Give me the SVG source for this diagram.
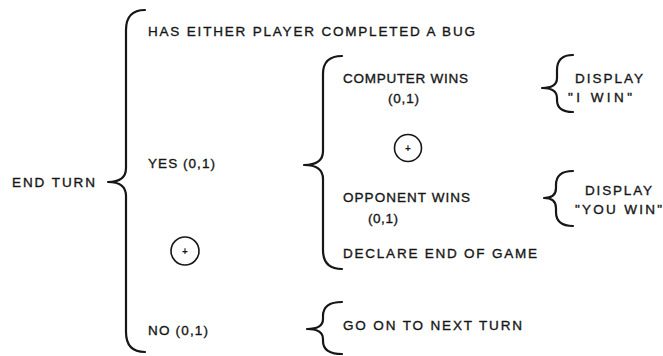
<svg xmlns="http://www.w3.org/2000/svg" width="663" height="356" viewBox="0 0 663 356">
<style>
.t{font-family:"Liberation Sans",Arial,sans-serif;font-size:13.5px;fill:#161616;stroke:#161616;stroke-width:0.35;}
.b{fill:none;stroke:#161616;stroke-width:2.2;stroke-linecap:round;stroke-linejoin:round;}
.c{fill:none;stroke:#161616;stroke-width:1.6;}
.p{font-family:"Liberation Sans",Arial,sans-serif;font-size:10px;fill:#161616;font-weight:bold;}
</style>
<rect width="663" height="356" fill="#ffffff"/>
<g id="connectors">
<path class="b" d="M145,10 Q126,10 126,30 L126,168 Q126,182 108,182 Q126,182 126,196 L126,332 Q126,352 145,352"/>
<path class="b" d="M342,56 Q323,56 323,74 L323,151 Q323,165 304,165 Q323,165 323,179 L323,250 Q323,269 342,269"/>
<path class="b" d="M573,55 Q557,55 557,70 L557,78 Q557,88 542,88 Q557,88 557,98 L557,100 Q557,112 573,112"/>
<path class="b" d="M573,171 Q556,171 556,185 L556,188 Q556,198 544,198 Q556,198 556,208 L556,212 Q556,226 573,226"/>
<path class="b" d="M342,302 Q323,302 323,316 L323,319 Q323,329 307,329 Q323,329 323,339 L323,341 Q323,354 342,354"/>
</g>
<g id="end-turn"><text class="t" x="12" y="187" textLength="83" lengthAdjust="spacing">END TURN</text></g>
<g id="has-either"><text class="t" x="148" y="36" textLength="327" lengthAdjust="spacing">HAS EITHER PLAYER COMPLETED A BUG</text></g>
<g id="yes"><text class="t" x="148" y="168" textLength="67" lengthAdjust="spacing">YES (0,1)</text></g>
<g id="or1"><circle class="c" cx="185" cy="251" r="14"/><text class="p" x="185" y="254.5" text-anchor="middle">+</text></g>
<g id="no"><text class="t" x="148" y="335" textLength="60" lengthAdjust="spacing">NO (0,1)</text></g>
<g id="computer-wins"><text class="t" x="343" y="83" textLength="125" lengthAdjust="spacing">COMPUTER WINS</text><text class="t" x="388" y="103" textLength="31" lengthAdjust="spacing">(0,1)</text></g>
<g id="or2"><circle class="c" cx="408" cy="148" r="13.5"/><text class="p" x="408" y="151.5" text-anchor="middle">+</text></g>
<g id="opponent-wins"><text class="t" x="343" y="202" textLength="127" lengthAdjust="spacing">OPPONENT WINS</text><text class="t" x="368" y="223" textLength="30" lengthAdjust="spacing">(0,1)</text></g>
<g id="declare"><text class="t" x="343" y="258" textLength="194" lengthAdjust="spacing">DECLARE END OF GAME</text></g>
<g id="go-on"><text class="t" x="343" y="330" textLength="179" lengthAdjust="spacing">GO ON TO NEXT TURN</text></g>
<g id="display-i-win"><text class="t" x="575" y="83" textLength="68" lengthAdjust="spacing">DISPLAY</text><text class="t" x="568" y="102" textLength="64" lengthAdjust="spacing">"I WIN"</text></g>
<g id="display-you-win"><text class="t" x="585" y="195" textLength="67" lengthAdjust="spacing">DISPLAY</text><text class="t" x="575" y="214" textLength="87" lengthAdjust="spacing">"YOU WIN"</text></g>
</svg>
